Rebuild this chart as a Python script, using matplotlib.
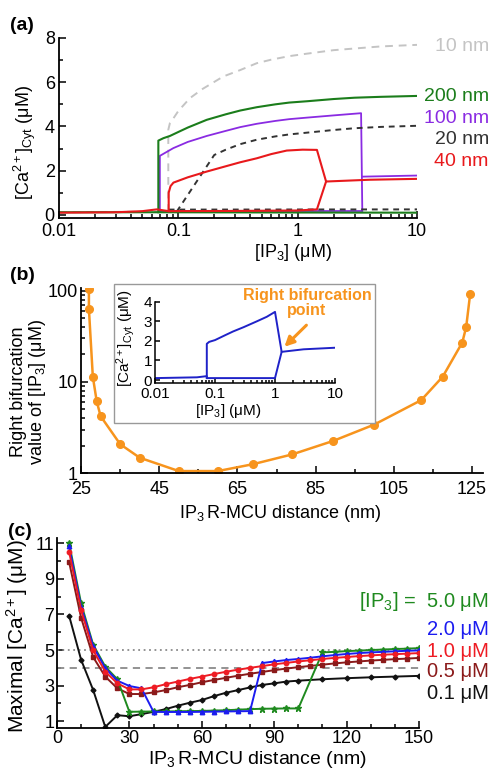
import numpy as np
import matplotlib
matplotlib.use("Agg")
import matplotlib.pyplot as plt
from matplotlib.patches import Rectangle
from matplotlib.ticker import FixedLocator, MultipleLocator, FuncFormatter, LogLocator, NullFormatter

plt.rcParams['font.family'] = ['Liberation Sans', 'DejaVu Sans']
plt.rcParams['mathtext.fontset'] = 'custom'
plt.rcParams['mathtext.rm'] = 'Liberation Sans'
plt.rcParams['mathtext.it'] = 'Liberation Sans:italic'
plt.rcParams['mathtext.bf'] = 'Liberation Sans:bold'
plt.rcParams['mathtext.default'] = 'regular'

W, H = 492, 773

# ---------------- panel (a) : bifurcation curves --------------------------
# 10 nm (light grey dashed)
nm10_x = [0.01, 0.0824, 0.0824, 0.085, 0.091, 0.1, 0.125, 0.16, 0.238, 0.33, 0.454, 0.6, 0.85,
          1.19, 2.0, 5.0, 10]
nm10_y = [0.12, 0.15, 3.85, 4.15, 4.37, 4.7, 5.28, 5.7, 6.26, 6.55, 6.86, 7.02, 7.18,
          7.29, 7.45, 7.62, 7.69]
# 200 nm (green)
nm200_lo_x = [0.01, 0.068, 10]
nm200_lo_y = [0.12, 0.12, 0.1]
nm200_hi_x = [0.068, 0.068, 0.075, 0.085, 0.1, 0.12, 0.173, 0.25, 0.33, 0.454, 0.65, 0.85, 1.2,
              2.0, 3.0, 5.0, 10]
nm200_hi_y = [0.12, 3.36, 3.47, 3.57, 3.75, 3.95, 4.3, 4.55, 4.72, 4.87, 5.0, 5.08, 5.14,
              5.24, 5.3, 5.34, 5.38]
# 100 nm (purple)
nm100_lo_x = [0.07, 3.48]
nm100_lo_y = [0.18, 0.18]
nm100_hi_x = [0.07, 0.07, 0.0908, 0.12, 0.173, 0.25, 0.33, 0.454, 0.65, 0.85, 1.2, 2.0, 3.4, 3.48]
nm100_hi_y = [0.18, 2.67, 3.02, 3.3, 3.57, 3.8, 3.97, 4.12, 4.25, 4.33, 4.4, 4.5, 4.6, 0.18]
nm100_r_x = [3.46, 10]
nm100_r_y = [1.73, 1.78]
# 20 nm (dark dashed)
nm20_lo_x = [0.083, 10]
nm20_lo_y = [0.24, 0.25]
nm20_hi_x = [0.097, 0.2, 0.25, 0.33, 0.454, 0.65, 0.85, 1.2, 2.0, 3.0, 5.0, 10]
nm20_hi_y = [0.15, 2.71, 2.95, 3.2, 3.4, 3.55, 3.64, 3.72, 3.84, 3.92, 3.98, 4.03]
# 40 nm (red)
nm40_lo_x = [0.01, 0.03, 0.05, 0.066, 0.083, 0.3, 1.0, 1.45, 1.73]
nm40_lo_y = [0.1, 0.12, 0.17, 0.25, 0.17, 0.18, 0.2, 0.25, 1.51]
nm40_hi_x = [0.083, 0.083, 0.086, 0.091, 0.12, 0.173, 0.25, 0.33, 0.454, 0.6, 0.81, 1.1, 1.45,
             1.73, 4.0, 10]
nm40_hi_y = [0.17, 1.0, 1.3, 1.46, 1.7, 1.96, 2.2, 2.38, 2.56, 2.75, 2.91, 2.95, 2.94,
             1.51, 1.59, 1.63]

a_labels = ["10 nm", "200 nm", "100 nm", "20 nm", "40 nm"]
a_label_y = [7.62, 5.35, 4.37, 3.39, 2.41]
a_colors = ["#c4c4c4", "#1b7d1b", "#8a2be2", "#333333", "#e8191c"]

# ---------------- panel (b) : right bifurcation value ---------------------
dist_b = [27, 27, 28, 29, 30, 35, 40, 50, 60, 69, 79, 89.5, 100, 112, 117.5, 122.5, 123.5, 124.5]
rbif_b = [105, 63, 11.4, 6.1, 4.2, 2.07, 1.47, 1.05, 1.05, 1.25, 1.6, 2.25, 3.4, 6.3, 11.4, 27, 40, 91]

# inset
ins_lo_x = [0.01, 0.05, 0.073, 0.073, 1.0, 1.29]
ins_lo_y = [0.1, 0.14, 0.2, 0.1, 0.1, 1.44]
ins_hi_x = [0.073, 0.073, 0.08, 0.1, 0.15, 0.2, 0.3, 0.5, 0.73, 1.0, 1.29, 3.0, 10]
ins_hi_y = [0.1, 1.85, 1.95, 2.04, 2.3, 2.48, 2.7, 3.0, 3.23, 3.48, 1.44, 1.57, 1.65]

# ---------------- panel (c) : maximal Ca vs distance ----------------------
dist_c = list(range(5, 155, 5))
ca_5p0_x = [d for d in dist_c if d != 105]
ca_5p0 = [11.02, 7.62, 5.3, 4.07, 3.36, 1.53, 1.54, 1.55, 1.55, 1.56, 1.57, 1.58, 1.6, 1.62, 1.65,
          1.68, 1.7, 1.71, 1.72, 1.72, 4.87, 4.9, 4.94, 4.97, 5.0, 5.03, 5.06, 5.08, 5.11]
ca_2p0 = [10.83, 7.43, 5.21, 3.98, 3.28, 2.98, 2.85, 1.53, 1.52, 1.52, 1.52, 1.53, 1.54, 1.55,
          1.56, 1.57, 4.27, 4.36, 4.44, 4.5, 4.57, 4.65, 4.72, 4.78, 4.83, 4.87, 4.9, 4.93, 4.96, 4.98]
ca_1p0 = [10.53, 7.24, 4.98, 3.79, 3.13, 2.79, 2.79, 2.91, 3.08, 3.23, 3.38, 3.51, 3.65, 3.78,
          3.9, 4.0, 4.1, 4.2, 4.28, 4.36, 4.43, 4.5, 4.56, 4.61, 4.66, 4.7, 4.74, 4.77, 4.8, 4.83]
ca_0p5 = [9.96, 6.81, 4.6, 3.51, 2.85, 2.53, 2.53, 2.62, 2.75, 2.91, 3.04, 3.19, 3.32, 3.44,
          3.56, 3.67, 3.77, 3.87, 3.96, 4.04, 4.11, 4.18, 4.25, 4.31, 4.36, 4.41, 4.45, 4.49, 4.52, 4.56]
ca_0p1_x = list(range(5, 105, 5)) + [110, 120, 130, 140, 150]
ca_0p1 = [6.94, 4.45, 2.75, 0.68, 1.34, 1.28, 1.4, 1.53, 1.68, 1.87, 2.04, 2.19, 2.41, 2.6,
          2.75, 2.9, 3.04, 3.13, 3.23, 3.28, 3.36, 3.42, 3.47, 3.51, 3.55]
c_labels = ["[IP$_3$] =  5.0 \u03bcM", "2.0 \u03bcM", "1.0 \u03bcM", "0.5 \u03bcM", "0.1 \u03bcM"]
c_label_y = [7.75, 6.15, 4.92, 3.79, 2.56]
c_colors = ["#1f8a1f", "#1c1cf0", "#ee1c24", "#8b1a1a", "#111111"]

ORANGE = "#f7941d"
FS = 13


def rect(x0, y0, x1, y1):
    # pixel box (top-left origin) -> figure fraction
    return [x0 / W, 1 - y1 / H, (x1 - x0) / W, (y1 - y0) / H]


def pos(x, y):
    return x / W, 1 - y / H


def style(ax, fs=FS):
    for s in ['top', 'right']:
        ax.spines[s].set_visible(False)
    for s in ['left', 'bottom']:
        ax.spines[s].set_linewidth(1.3)
    ax.tick_params(which='both', direction='in', labelsize=fs, width=1.1, pad=2)
    ax.tick_params(which='major', length=5)
    ax.tick_params(which='minor', length=3)


plain = FuncFormatter(lambda v, p: ("%g" % v))

fig = plt.figure(figsize=(W / 100, H / 100), dpi=100)

# ---- (a)
ax = fig.add_axes(rect(59, 38, 417, 218))
style(ax)
ax.tick_params(axis='x', which='both', pad=3.5)
ax.tick_params(axis='y', which='both', pad=3)
ax.set_xscale('log')
ax.plot(nm10_x, nm10_y, color=a_colors[0], lw=1.4, ls=(0, (4, 3)))
ax.plot(nm100_lo_x, nm100_lo_y, color=a_colors[2], lw=1.3)
ax.plot(nm100_hi_x, nm100_hi_y, color=a_colors[2], lw=1.3)
ax.plot(nm100_r_x, nm100_r_y, color=a_colors[2], lw=1.3)
ax.plot(nm200_lo_x, nm200_lo_y, color=a_colors[1], lw=1.5)
ax.plot(nm200_hi_x, nm200_hi_y, color=a_colors[1], lw=1.5)
ax.plot(nm20_lo_x, nm20_lo_y, color=a_colors[3], lw=1.4, ls=(0, (3, 2.5)))
ax.plot(nm20_hi_x, nm20_hi_y, color=a_colors[3], lw=1.4, ls=(0, (3, 2.5)))
ax.plot(nm40_lo_x, nm40_lo_y, color=a_colors[4], lw=1.5)
ax.plot(nm40_hi_x, nm40_hi_y, color=a_colors[4], lw=1.5)
ax.set_xlim(0.01, 10)
ax.set_ylim(-0.14, 8)
ax.yaxis.set_major_locator(MultipleLocator(2))
ax.yaxis.set_minor_locator(MultipleLocator(1))
ax.xaxis.set_major_formatter(plain)
ax.xaxis.set_minor_formatter(NullFormatter())
for lab, yy, c in zip(a_labels, a_label_y, a_colors):
    ax.text(40, yy, lab, color=c, fontsize=14, ha='right', va='center', clip_on=False)
fig.text(*pos(25, 142), "[Ca$^{2+}$]$_{Cyt}$ (\u03bcM)", rotation=90, ha='center', va='center', fontsize=FS)
fig.text(*pos(293, 253), "[IP$_3$] (\u03bcM)", ha='center', va='center', fontsize=FS)
fig.text(*pos(22, 25), "(a)", ha='center', va='center', fontsize=14, fontweight='bold')

# ---- (b)
ax = fig.add_axes(rect(80.7, 288, 483, 473))
style(ax)
ax.tick_params(axis='x', which='both', pad=6)
ax.set_yscale('log')
ax.plot(dist_b, rbif_b, color=ORANGE, lw=1.8, marker='o', ms=5.5)
ax.set_xlim(24.9, 127.8)
ax.set_ylim(1, 107)
ax.xaxis.set_major_locator(FixedLocator([25, 45, 65, 85, 105, 125]))
ax.xaxis.set_minor_locator(FixedLocator([35, 55, 75, 95, 115]))
ax.yaxis.set_major_formatter(plain)
ax.yaxis.set_minor_formatter(NullFormatter())
ax.yaxis.set_minor_locator(LogLocator(subs=np.arange(2, 10) * 1.0))
fig.text(*pos(29, 392), "Right bifurcation\nvalue of [IP$_3$] (\u03bcM)", rotation=90,
         ha='center', va='center', fontsize=FS, linespacing=1.05)
fig.text(*pos(280, 513), "IP$_3\\,$R-MCU distance (nm)", ha='center', va='center', fontsize=FS)
fig.text(*pos(22, 275), "(b)", ha='center', va='center', fontsize=14, fontweight='bold')

# inset frame
fig.patches.append(Rectangle(pos(114, 423), (375 - 114) / W, (423 - 284) / H,
                             transform=fig.transFigure, fill=True, facecolor='white',
                             edgecolor='#999999', lw=1.0, zorder=2))
ins = fig.add_axes(rect(155, 301.7, 335, 383))
ins.set_zorder(3)
ins.patch.set_alpha(0)
style(ins, fs=11)
ins.tick_params(axis='x', which='both', pad=3)
ins.spines['left'].set_linewidth(1.1)
ins.spines['bottom'].set_linewidth(1.1)
ins.set_xscale('log')
ins.plot(ins_lo_x, ins_lo_y, color='#1f22c8', lw=1.4)
ins.plot(ins_hi_x, ins_hi_y, color='#1f22c8', lw=1.4)
ins.set_xlim(0.01, 10)
ins.set_ylim(-0.15, 4)
ins.yaxis.set_major_locator(MultipleLocator(1))
ins.xaxis.set_major_formatter(plain)
ins.xaxis.set_minor_formatter(NullFormatter())
ins.tick_params(which='major', length=3.5)
ins.tick_params(which='minor', length=2)
ins.annotate("", xy=(1.33, 1.6), xytext=(3.6, 2.9),
             arrowprops=dict(arrowstyle='-|>', color=ORANGE, lw=2.2, mutation_scale=14))
ins.text(3.4, 3.93, "Right bifurcation\npoint", color=ORANGE, fontsize=11.5, fontweight='bold',
         ha='center', va='center', linespacing=1.0, clip_on=False)
fig.text(*pos(228, 411), "[IP$_3$] (\u03bcM)", ha='center', va='center', fontsize=11, zorder=4)
fig.text(*pos(126, 338), "[Ca$^{2+}$]$_{Cyt}$ (\u03bcM)", rotation=90, ha='center', va='center',
         fontsize=11, zorder=4)

# ---- (c)
ax = fig.add_axes(rect(57, 538, 419, 728))
style(ax)
ax.tick_params(axis='x', which='both', pad=1.5)
ax.axhline(5, color='#8a8a8a', lw=1.3, ls=(0, (1, 2)))
ax.axhline(4, color='#8a8a8a', lw=1.3, ls=(0, (4, 3)))
ax.plot(ca_0p1_x, ca_0p1, color=c_colors[4], lw=1.4, marker='D', ms=2.5)
ax.plot(dist_c, ca_0p5, color=c_colors[3], lw=1.4, marker='s', ms=2.8)
ax.plot(ca_5p0_x, ca_5p0, color=c_colors[0], lw=1.4, marker='*', ms=5)
ax.plot(dist_c, ca_2p0, color=c_colors[1], lw=1.4, marker='^', ms=3.2)
ax.plot(dist_c, ca_1p0, color=c_colors[2], lw=1.4, marker='o', ms=3.2)
ax.set_xlim(0, 150)
ax.set_ylim(0.62, 11.3)
ax.xaxis.set_major_locator(MultipleLocator(30))
ax.xaxis.set_minor_locator(MultipleLocator(10))
ax.yaxis.set_major_locator(FixedLocator([1, 3, 5, 7, 9, 11]))
ax.yaxis.set_minor_locator(MultipleLocator(1))
for lab, yy, c in zip(c_labels, c_label_y, c_colors):
    ax.text(179, yy, lab, color=c, fontsize=14.5, ha='right', va='center', clip_on=False)
fig.text(*pos(17, 636), "Maximal [Ca$^{2+}$] (\u03bcM)", rotation=90, ha='center', va='center', fontsize=15)
fig.text(*pos(257, 759), "IP$_3\\,$R-MCU distance (nm)", ha='center', va='center', fontsize=14)
fig.text(*pos(20, 532), "(c)", ha='center', va='center', fontsize=14, fontweight='bold')

fig.savefig("out.png", dpi=100)
